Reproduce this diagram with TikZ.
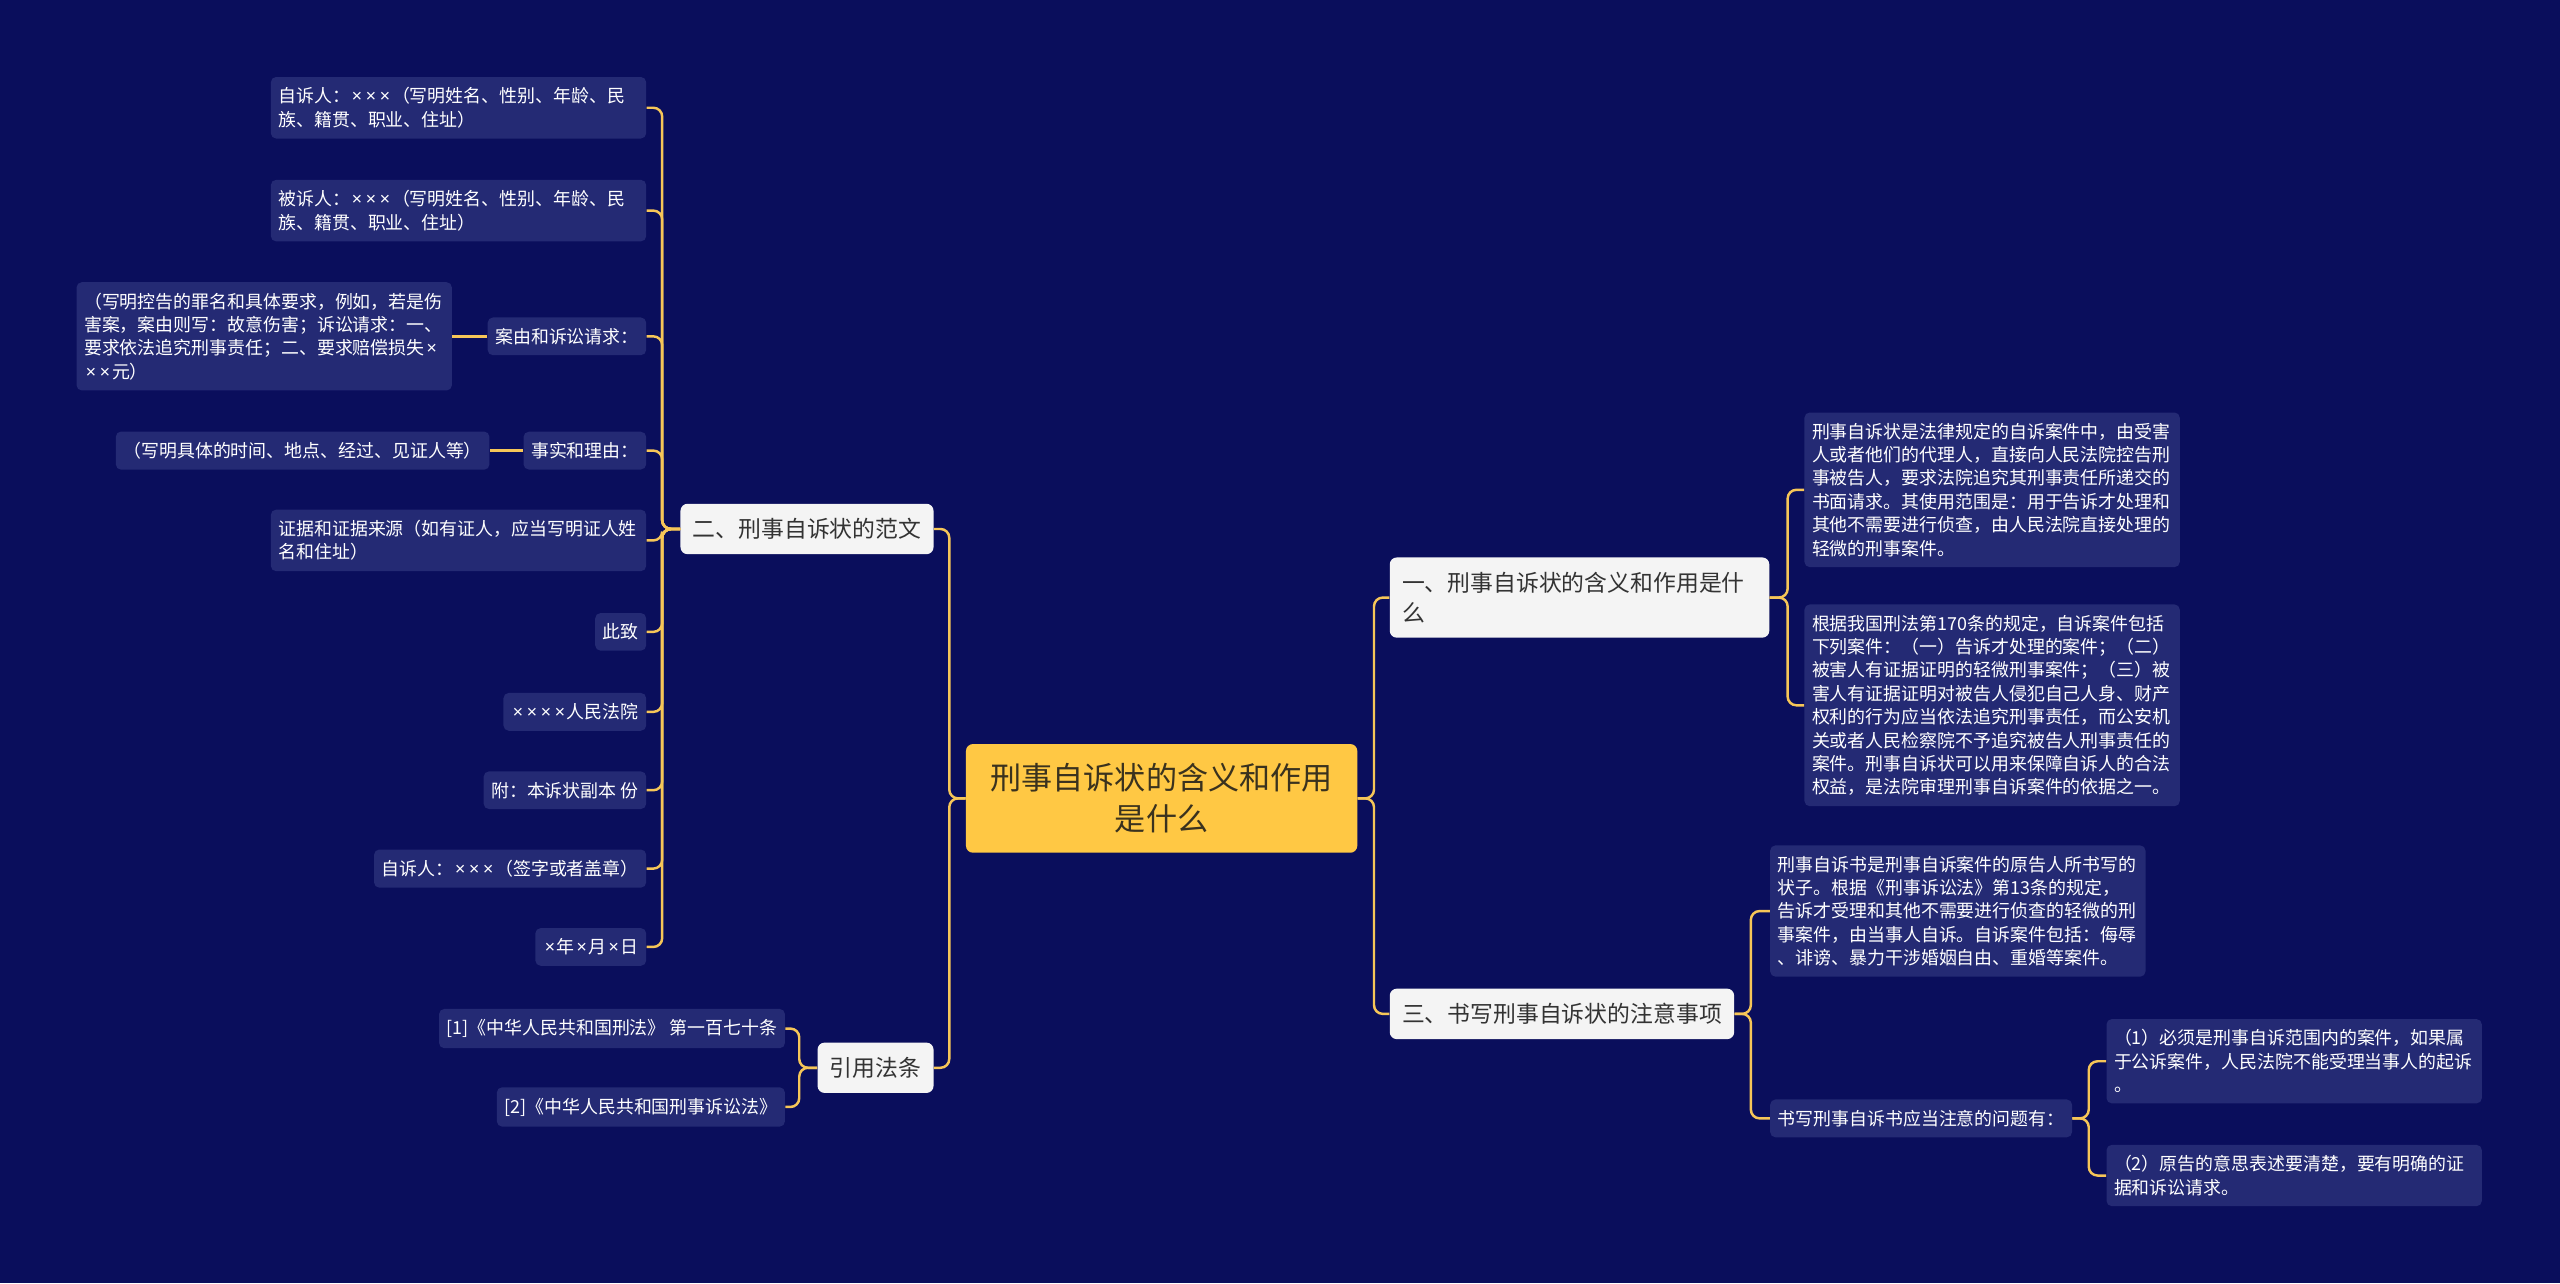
\documentclass[tikz,border=0pt]{standalone}
\usepackage{fontspec}
\setmainfont{Noto Sans CJK SC}
\newfontfamily\latf{Noto Sans}
\newcommand{\xx}{\makebox[0.78em]{\latf ×}}
\usetikzlibrary{shapes,arrows}
\definecolor{bgc}{RGB}{10,14,92}
\definecolor{lfc}{RGB}{36,42,116}
\definecolor{lnc}{RGB}{246,198,88}
\definecolor{rtc}{RGB}{255,200,68}
\definecolor{mdc}{RGB}{244,244,244}
\definecolor{rtt}{RGB}{58,50,30}
\tikzstyle{rt} = [rectangle, rounded corners=4pt, fill=rtc, text=rtt, font=\fontsize{17.7}{23.5}\selectfont, align=center, inner xsep=14pt, inner ysep=11pt]
\tikzstyle{md} = [rectangle, rounded corners=4pt, fill=mdc, text=black!80, font=\fontsize{13}{17.2}\selectfont, align=left, inner xsep=7pt, inner ysep=8.3pt]
\tikzstyle{lf} = [rectangle, rounded corners=3pt, fill=lfc, text=white, font=\fontsize{10.2}{13.3}\selectfont, align=left, inner xsep=4.3pt, inner ysep=6pt]
\tikzstyle{lw} = [lf, text width=205pt]
\tikzstyle{ln} = [draw=lnc, line width=1.4pt, rounded corners=5pt]

\begin{document}
\begin{tikzpicture}[x=0.032653cm, y=-0.032653cm]
		\fill[bgc] (0,0) rectangle (1568,786);
		% root and main branches
		\node[rt](root) at (711.5,489){刑事自诉状的含义和作用\\是什么};
		\node[md,anchor=east](fw) at (572,324){二、刑事自诉状的范文};
		\node[md,anchor=east](yy) at (572,654){引用法条};
		\node[md,anchor=west,text width=202pt](hy) at (851,366){一、刑事自诉状的含义和作用是什\\么};
		\node[md,anchor=west](zy) at (851,621){三、书写刑事自诉状的注意事项};
		
		% 范文
		\node[lw,anchor=east](zsr) at (396,66){自诉人：\xx\xx\xx（写明姓名、性别、年龄、民\\族、籍贯、职业、住址）};
		\node[lw,anchor=east](bsr) at (396,129){被诉人：\xx\xx\xx（写明姓名、性别、年龄、民\\族、籍贯、职业、住址）};
		\node[lf,anchor=east](ay) at (396,206){案由和诉讼请求：};
		\node[lw,anchor=east](ayx) at (277,206){（写明控告的罪名和具体要求，例如，若是伤\\害案，案由则写：故意伤害；诉讼请求：一、\\要求依法追究刑事责任；二、要求赔偿损失\xx\\\xx\xx 元）};
		\node[lf,anchor=east](ss) at (396,276){事实和理由：};
		\node[lf,anchor=east](ssx) at (300,276){（写明具体的时间、地点、经过、见证人等）};
		\node[lw,anchor=east](zj) at (396,331){证据和证据来源（如有证人，应当写明证人姓\\名和住址）};
		\node[lf,anchor=east](cz) at (396,387){此致};
		\node[lf,anchor=east](fy) at (396,436){\xx\xx\xx\xx 人民法院};
		\node[lf,anchor=east](fb) at (396,484){附：本诉状副本 份};
		\node[lf,anchor=east](qz) at (396,532){自诉人：\xx\xx\xx（签字或者盖章）};
		\node[lf,anchor=east](rq) at (396,580){\xx 年\xx 月\xx 日};
		
		% 引用法条
		\node[lf,anchor=east](xf) at (481,630){[1]《中华人民共和国刑法》 第一百七十条};
		\node[lf,anchor=east](xs) at (481,678){[2]《中华人民共和国刑事诉讼法》};
		
		% 含义和作用
		\node[lw,anchor=west](hy1) at (1105,300){刑事自诉状是法律规定的自诉案件中，由受害\\人或者他们的代理人，直接向人民法院控告刑\\事被告人，要求法院追究其刑事责任所递交的\\书面请求。其使用范围是：用于告诉才处理和\\其他不需要进行侦查，由人民法院直接处理的\\轻微的刑事案件。};
		\node[lw,anchor=west](hy2) at (1105,432){根据我国刑法第170条的规定，自诉案件包括\\下列案件：（一）告诉才处理的案件；（二）\\被害人有证据证明的轻微刑事案件；（三）被\\害人有证据证明对被告人侵犯自己人身、财产\\权利的行为应当依法追究刑事责任，而公安机\\关或者人民检察院不予追究被告人刑事责任的\\案件。刑事自诉状可以用来保障自诉人的合法\\权益，是法院审理刑事自诉案件的依据之一。};
		
		% 注意事项
		\node[lw,anchor=west](zy1) at (1084,558){刑事自诉书是刑事自诉案件的原告人所书写的\\状子。根据《刑事诉讼法》第13条的规定，\\告诉才受理和其他不需要进行侦查的轻微的刑\\事案件，由当事人自诉。自诉案件包括：侮辱\\、诽谤、暴力干涉婚姻自由、重婚等案件。};
		\node[lf,anchor=west](wt) at (1084,685){书写刑事自诉书应当注意的问题有：};
		\node[lw,anchor=west](wt1) at (1290,650){（1）必须是刑事自诉范围内的案件，如果属\\于公诉案件，人民法院不能受理当事人的起诉\\。};
		\node[lw,anchor=west](wt2) at (1290,720){（2）原告的意思表述要清楚，要有明确的证\\据和诉讼请求。};
		
		\draw[ln](root.west)-- ++(-10,0) |- (fw.east);
		\draw[ln](root.west)-- ++(-10,0) |- (yy.east);
		\draw[ln](root.east)-- ++(10,0) |- (hy.west);
		\draw[ln](root.east)-- ++(10,0) |- (zy.west);
		
		\draw[ln](fw.west)-- ++(-11,0) |- (zsr.east);
		\draw[ln](fw.west)-- ++(-11,0) |- (bsr.east);
		\draw[ln](fw.west)-- ++(-11,0) |- (ay.east);
		\draw[ln](fw.west)-- ++(-11,0) |- (ss.east);
		\draw[ln](fw.west)-- ++(-11,0) |- (zj.east);
		\draw[ln](fw.west)-- ++(-11,0) |- (cz.east);
		\draw[ln](fw.west)-- ++(-11,0) |- (fy.east);
		\draw[ln](fw.west)-- ++(-11,0) |- (fb.east);
		\draw[ln](fw.west)-- ++(-11,0) |- (qz.east);
		\draw[ln](fw.west)-- ++(-11,0) |- (rq.east);
		\draw[ln](ay.west)--(ayx.east);
		\draw[ln](ss.west)--(ssx.east);
		
		\draw[ln](yy.west)-- ++(-11,0) |- (xf.east);
		\draw[ln](yy.west)-- ++(-11,0) |- (xs.east);
		
		\draw[ln](hy.east)-- ++(11,0) |- (hy1.west);
		\draw[ln](hy.east)-- ++(11,0) |- (hy2.west);
		
		\draw[ln](zy.east)-- ++(10,0) |- (zy1.west);
		\draw[ln](zy.east)-- ++(10,0) |- (wt.west);
		\draw[ln](wt.east)-- ++(10,0) |- (wt1.west);
		\draw[ln](wt.east)-- ++(10,0) |- (wt2.west);
	\end{tikzpicture}
\end{document}
